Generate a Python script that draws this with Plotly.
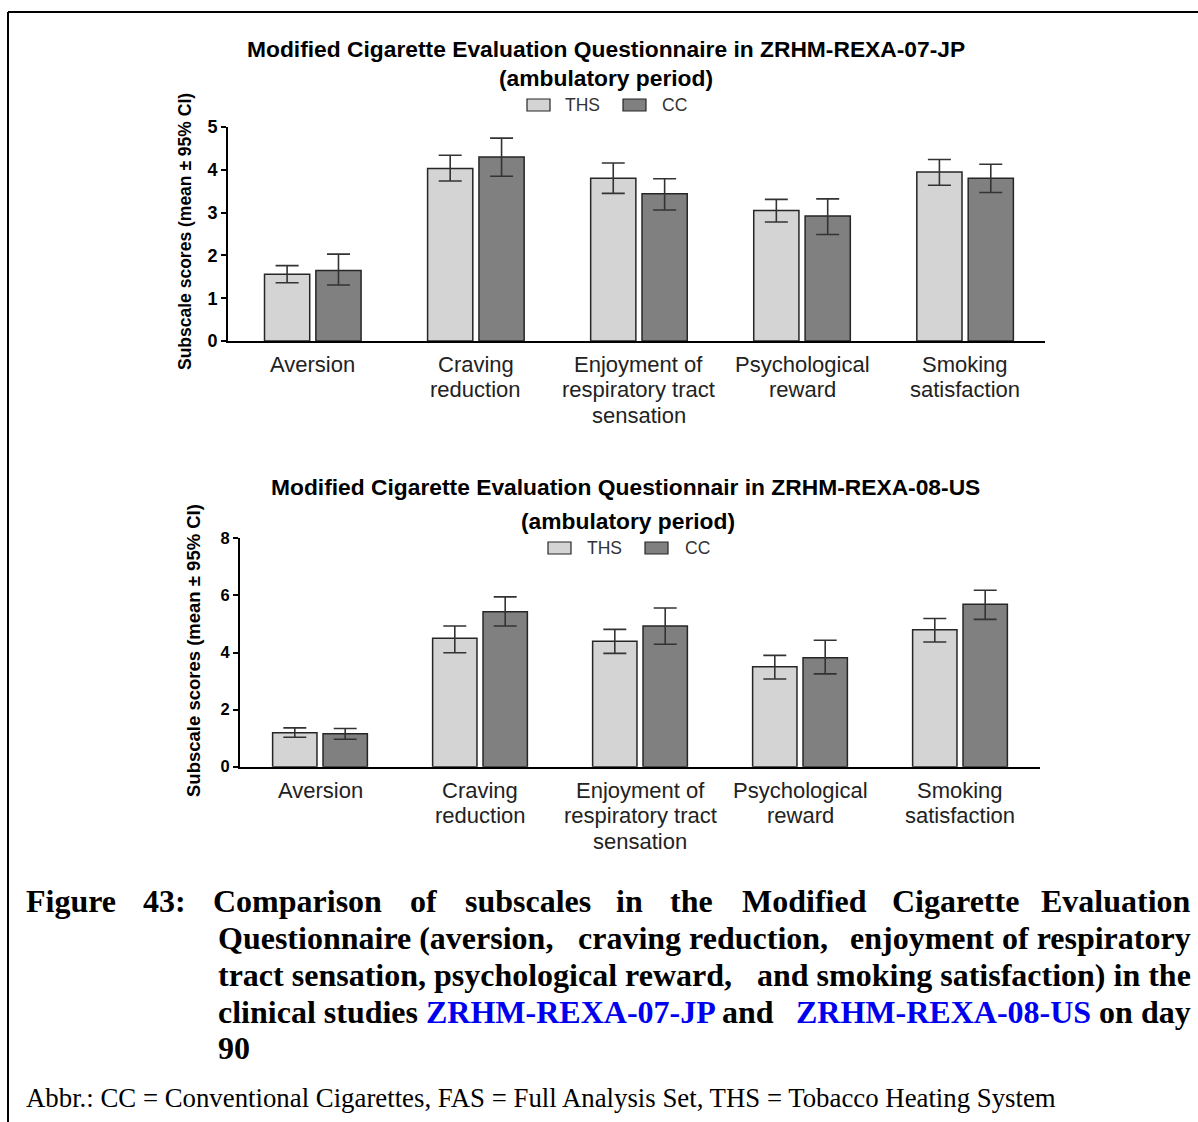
import plotly.graph_objects as go

categories = ["Aversion", "Craving<br>reduction", "Enjoyment of<br>respiratory tract<br>sensation",
              "Psychological<br>reward", "Smoking<br>satisfaction"]
series_names = ["THS", "CC"]

# Study ZRHM-REXA-07-JP
jp_ths_mean = [1.56, 4.03, 3.80, 3.05, 3.95]
jp_ths_upper = [1.76, 4.34, 4.16, 3.31, 4.24]
jp_ths_lower = [1.36, 3.74, 3.45, 2.78, 3.64]
jp_cc_mean = [1.65, 4.30, 3.44, 2.92, 3.80]
jp_cc_upper = [2.03, 4.74, 3.79, 3.32, 4.13]
jp_cc_lower = [1.31, 3.85, 3.06, 2.49, 3.47]

# Study ZRHM-REXA-08-US
us_ths_mean = [1.19, 4.50, 4.39, 3.50, 4.80]
us_ths_upper = [1.36, 4.93, 4.81, 3.90, 5.19]
us_ths_lower = [1.03, 3.99, 3.97, 3.07, 4.37]
us_cc_mean = [1.15, 5.43, 4.93, 3.82, 5.69]
us_cc_upper = [1.34, 5.95, 5.56, 4.43, 6.18]
us_cc_lower = [0.96, 4.93, 4.29, 3.25, 5.16]

jp_yticks = [0, 1, 2, 3, 4, 5]
us_yticks = [0, 2, 4, 6, 8]

W, H = 1198, 1122
BAR_COLORS = {"THS": "#d4d4d4", "CC": "#808080"}
SANS = "Liberation Sans, Arial, sans-serif"
NARROW = "Liberation Sans Narrow, Arial Narrow, Liberation Sans, Arial, sans-serif"
SERIF = "Liberation Serif, Times New Roman, serif"


def px_x(x):
    return x / W


def px_y(y):
    return 1 - y / H


fig = go.Figure()


def add_bars(name, mean, upper, lower, xa, ya):
    fig.add_trace(go.Bar(
        x=categories, y=mean, name=name, showlegend=False,
        marker=dict(color=BAR_COLORS[name], line=dict(color="#262626", width=1.5)),
        error_y=dict(type="data", symmetric=False,
                     array=[u - m for u, m in zip(upper, mean)],
                     arrayminus=[m - l for m, l in zip(mean, lower)],
                     color="#333333", thickness=1.6, width=11.5),
        xaxis=xa, yaxis=ya,
    ))


add_bars("THS", jp_ths_mean, jp_ths_upper, jp_ths_lower, "x", "y")
add_bars("CC", jp_cc_mean, jp_cc_upper, jp_cc_lower, "x", "y")
add_bars("THS", us_ths_mean, us_ths_upper, us_ths_lower, "x2", "y2")
add_bars("CC", us_cc_mean, us_cc_upper, us_cc_lower, "x2", "y2")

xcommon = dict(showline=True, linecolor="black", linewidth=2, ticks="", showgrid=False,
               zeroline=False, showticklabels=False, type="category")
ycommon = dict(showline=True, linecolor="black", linewidth=2, ticks="outside", ticklen=5,
               tickwidth=1.5, tickcolor="black", showgrid=False, zeroline=False)

fig.update_layout(
    width=W, height=H,
    margin=dict(l=0, r=0, t=0, b=0, pad=0, autoexpand=False),
    paper_bgcolor="white", plot_bgcolor="white",
    barmode="group", bargap=0.37, bargroupgap=0.12,
    showlegend=False,
    xaxis=dict(domain=[px_x(228), px_x(1045)], range=[-0.52, 4.49], anchor="y", **xcommon),
    yaxis=dict(domain=[px_y(341), px_y(127)], range=[0, 5], tickvals=jp_yticks, anchor="x",
               tickfont=dict(family=NARROW, size=18, color="black", weight="bold"), **ycommon),
    xaxis2=dict(domain=[px_x(240), px_x(1040)], range=[-0.5, 4.5], anchor="y2", **xcommon),
    yaxis2=dict(domain=[px_y(766.7), px_y(538.3)], range=[0, 8], tickvals=us_yticks, anchor="x2",
                tickfont=dict(family=SANS, size=16.5, color="black", weight="bold"), **ycommon),
)

ann = []


def text(x, y, t, size, family, weight="normal", color="black", xanchor="center", angle=0,
         xref="paper"):
    ann.append(dict(x=px_x(x) if xref == "paper" else x, y=px_y(y), xref=xref, yref="paper",
                    text=t, showarrow=False, xanchor=xanchor, yanchor="middle", textangle=angle,
                    font=dict(family=family, size=size, color=color, weight=weight)))


# category labels under each axis (one annotation per line, positioned by the category scale)
for xref, y0 in (("x", 364), ("x2", 790)):
    for cat in categories:
        for i, part in enumerate(cat.split("<br>")):
            text(cat, y0 + i * 25.5, part, 22, SANS, color="#222222", xref=xref)

# chart titles
text(606, 49, "Modified Cigarette Evaluation Questionnaire in ZRHM-REXA-07-JP", 22.8, SANS, "bold")
text(606, 78, "(ambulatory period)", 22.8, SANS, "bold")
text(625, 487, "Modified Cigarette Evaluation Questionnair in ZRHM-REXA-08-US", 22.8, SANS, "bold")
text(628, 521, "(ambulatory period)", 22.8, SANS, "bold")

# legends
shapes = []
for (ly, items) in ((105, ((527, 563, "THS"), (623, 660, "CC"))),
                    (548, ((548, 585, "THS"), (645, 683, "CC")))):
    for bx, tx, name in items:
        shapes.append(dict(type="rect", xref="paper", yref="paper",
                           x0=px_x(bx), x1=px_x(bx + 23), y0=px_y(ly + 6), y1=px_y(ly - 6),
                           fillcolor=BAR_COLORS[name], line=dict(color="#262626", width=1.2)))
        text(tx, ly, name, 17.5, SANS, color="#333333", xanchor="left")

# y-axis titles
text(185, 232, "Subscale scores (mean ± 95% CI)", 17.5, SANS, "bold", angle=-90)
text(193, 651, "Subscale scores (mean ± 95% CI)", 18.5, SANS, "bold", angle=-90)

# caption
BLUE = "#0000ee"
cap = 32
line1 = [("Figure", 24), ("43:", 141), ("Comparison", 211), ("of", 408), ("subscales", 463),
         ("in", 614), ("the", 668), ("Modified", 740), ("Cigarette", 890)]
for w, x0 in line1:
    text(x0, 901, w, cap, SERIF, "bold", xanchor="left")
text(1193, 901, "Evaluation", cap, SERIF, "bold", xanchor="right")

text(216, 938, "Questionnaire (aversion,", cap, SERIF, "bold", xanchor="left")
text(703, 938, "craving reduction,", cap, SERIF, "bold")
text(1193, 938, "enjoyment of respiratory", cap, SERIF, "bold", xanchor="right")
text(216, 975, "tract sensation, psychological reward,", cap, SERIF, "bold", xanchor="left")
text(1193, 975, "and smoking satisfaction) in the", cap, SERIF, "bold", xanchor="right")
text(216, 1012, f"clinical studies <span style='color:{BLUE}'>ZRHM-REXA-07-JP</span> and", cap, SERIF,
     "bold", xanchor="left")
text(1193, 1012, f"<span style='color:{BLUE}'>ZRHM-REXA-08-US</span> on day", cap, SERIF, "bold",
     xanchor="right")
text(216, 1048, "90", cap, SERIF, "bold", xanchor="left")

text(24, 1098, "Abbr.: CC = Conventional Cigarettes, FAS = Full Analysis Set, THS = Tobacco Heating System",
     26.8, SERIF, xanchor="left")

# frame lines of the figure page
shapes.append(dict(type="line", xref="paper", yref="paper", x0=px_x(8), x1=1, y0=px_y(12), y1=px_y(12),
                   line=dict(color="black", width=2)))
shapes.append(dict(type="line", xref="paper", yref="paper", x0=px_x(8), x1=px_x(8), y0=px_y(12), y1=0,
                   line=dict(color="black", width=2)))

fig.update_layout(annotations=ann, shapes=shapes)

fig.write_html("out.html", config={"displayModeBar": False},
               post_script="document.body.style.margin='0';document.body.style.overflow='hidden';")
